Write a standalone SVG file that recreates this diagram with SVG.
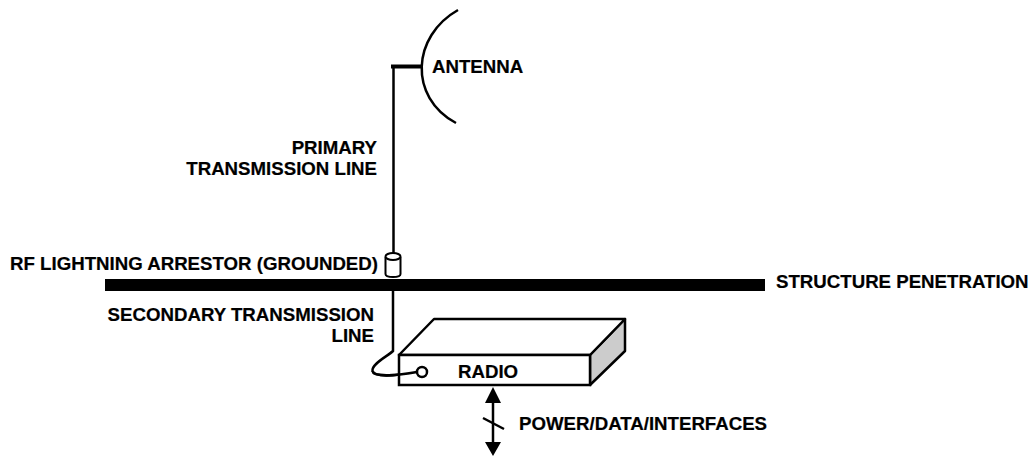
<svg xmlns="http://www.w3.org/2000/svg" width="1029" height="456" viewBox="0 0 1029 456">
<style>
text{font-family:"Liberation Sans",Arial,sans-serif;font-size:18.67px;font-weight:bold;fill:#000;stroke:#000;stroke-width:.2}
.l{fill:none;stroke:#000;stroke-width:2.500}
.e{text-anchor:end}
</style>
<rect width="1029" height="456" fill="#fff"/>
<g id="connectors">
<path class="l" d="M393.500 65V254"/>
<path d="M391 66.500H421" fill="none" stroke="#000" stroke-width="4"/>
<path class="l" d="M393 290V351C388 356 371 364 372.500 371C374 378 400 375 417 372"/>
<path class="l" d="M493 400V445"/>
<path d="M493 387L501 403H485Z M493 456L485 442H501Z"/>
<path class="l" d="M483 418L504 429"/>
</g>
<g id="antenna">
<path d="M458 10C412 36 408 97 456 123" fill="none" stroke="#000" stroke-width="2.500"/>
<text x="432" y="73">ANTENNA</text>
</g>
<g id="primary-line">
<text class="e" x="377" y="154">PRIMARY</text>
<text class="e" x="377" y="175">TRANSMISSION LINE</text>
</g>
<g id="arrestor">
<path d="M385.500 257V274Q385.500 277 393 277Q400.500 277 400.500 274V257" fill="#fff" stroke="#000" stroke-width="2"/>
<ellipse cx="393" cy="256.500" rx="7.500" ry="3.500" fill="#fff" stroke="#000" stroke-width="2"/>
<text class="e" x="378" y="270">RF LIGHTNING ARRESTOR (GROUNDED)</text>
</g>
<g id="structure">
<rect x="105" y="279" width="660" height="12"/>
<text x="776" y="288">STRUCTURE PENETRATION</text>
</g>
<g id="secondary-line">
<text class="e" x="374" y="321">SECONDARY TRANSMISSION</text>
<text class="e" x="374" y="342">LINE</text>
</g>
<g id="radio">
<path d="M590 355L625 319V351L590 385Z" fill="#ccc" stroke="#000" stroke-width="2.500" stroke-linejoin="round"/>
<path d="M399 355L434 319H625L590 355Z" fill="#fff" stroke="#000" stroke-width="2.500" stroke-linejoin="round"/>
<rect x="399" y="355" width="191" height="30" fill="#fff" stroke="#000" stroke-width="2.500"/>
<path class="l" d="M372.500 371C374 378 400 375 417 372"/>
<circle cx="422" cy="372" r="5" fill="#fff" stroke="#000" stroke-width="2.500"/>
<text x="458" y="378">RADIO</text>
</g>
<g id="interfaces">
<text x="519" y="430">POWER/DATA/INTERFACES</text>
</g>
</svg>
